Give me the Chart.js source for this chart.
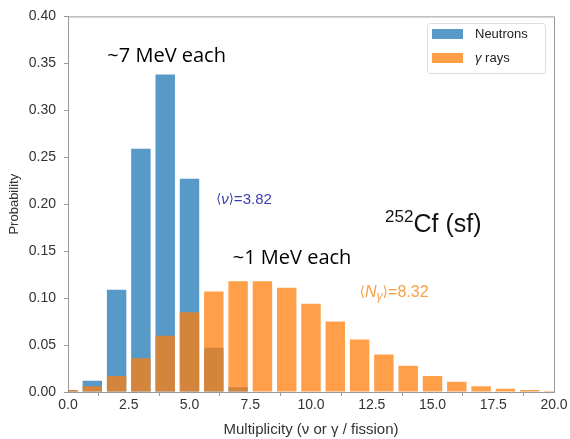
<!DOCTYPE html>
<html>
<head>
<meta charset="utf-8">
<script src="https://cdn.jsdelivr.net/npm/chart.js@4"></script>
<style>
  html, body { margin: 0; padding: 0; background: #fff; }
  #wrap { width: 570px; height: 439px; }
</style>
</head>
<body>
<div id="wrap"><canvas id="multChart" width="570" height="439"></canvas></div>
<script>
// multiplicity values (x) and probabilities
const neutronMult = [0, 1, 2, 3, 4, 5, 6, 7];
const neutronProb = [0.002, 0.012, 0.109, 0.259, 0.338, 0.227, 0.047, 0.005];

const gammaMult = [0, 1, 2, 3, 4, 5, 6, 7, 8, 9, 10, 11, 12, 13, 14, 15, 16, 17, 18, 19, 20];
const gammaProb = [0.002, 0.006, 0.017, 0.036, 0.060, 0.085, 0.107, 0.118, 0.118, 0.111, 0.094,
                   0.075, 0.056, 0.040, 0.028, 0.017, 0.011, 0.006, 0.0035, 0.002, 0.001];

const xTicks = [0, 2.5, 5, 7.5, 10, 12.5, 15, 17.5, 20];
const yTicks = [0, 0.05, 0.10, 0.15, 0.20, 0.25, 0.30, 0.35, 0.40];

const seriesNames = ['Neutrons', 'γ rays'];
const blue = 'rgba(31,119,180,0.75)';
const orange = 'rgba(255,127,14,0.75)';

const toPoints = (xs, ys) => xs.map((x, i) => ({ x: x, y: ys[i] }));

/* =========================
   frame, legend and notes
   ========================= */

// draw text runs (some italic) in a row
function drawRuns(ctx, runs, x, y, size, color) {
    ctx.fillStyle = color;
    ctx.textBaseline = 'middle';
    ctx.textAlign = 'left';
    runs.forEach(r => {
        ctx.font = (r.italic ? 'italic ' : '') + (r.size || size) + 'px ' + (r.family || '"Liberation Sans", Arial, sans-serif');
        const dy = r.dy || 0;
        ctx.fillText(r.text, x, y + dy);
        x += ctx.measureText(r.text).width;
    });
}

const extrasPlugin = {
    id: 'extras',
    afterDraw(chart) {
        const ctx = chart.ctx;
        const area = chart.chartArea;
        const xs = chart.scales.x;
        const ys = chart.scales.y;
        ctx.save();

        // top + right spines
        ctx.strokeStyle = '#999';
        ctx.lineWidth = 1;
        ctx.beginPath();
        ctx.moveTo(area.left, area.top + 0.5);
        ctx.lineTo(area.right + 0.5, area.top + 0.5);
        ctx.lineTo(area.right + 0.5, area.bottom);
        ctx.stroke();

        // legend box
        const lx = 427, ly = 23, lw = 118, lh = 50;
        ctx.strokeStyle = '#ddd';
        ctx.fillStyle = 'rgba(255,255,255,0.85)';
        ctx.beginPath();
        ctx.roundRect(lx + 0.5, ly + 0.5, lw, lh, 3);
        ctx.fill();
        ctx.stroke();
        const colors = chart.data.datasets.map(d => d.backgroundColor);
        const legendRows = [
            [{ text: seriesNames[0] }],
            [{ text: 'γ', italic: true }, { text: ' rays' }]
        ];
        legendRows.forEach((row, i) => {
            const cy = ly + 11 + i * 24;
            ctx.fillStyle = colors[i];
            ctx.fillRect(lx + 5, cy - 5, 31, 10);
            drawRuns(ctx, row, lx + 48, cy, 13, '#222');
        });

        // annotations
        const sans = '"Open Sans", "Noto Sans", sans-serif';
        drawRuns(ctx, [{ text: '~7 MeV each', family: sans }], xs.getPixelForValue(1.62), ys.getPixelForValue(0.357), 20, '#000');
        drawRuns(ctx, [{ text: '~1 MeV each', family: sans }], xs.getPixelForValue(6.78), ys.getPixelForValue(0.142), 20, '#000');

        drawRuns(ctx, [
            { text: '⟨', family: '"DejaVu Sans", sans-serif', size: 13 },
            { text: 'ν', italic: true },
            { text: '⟩', family: '"DejaVu Sans", sans-serif', size: 13 },
            { text: '=3.82' }
        ], xs.getPixelForValue(6.1), ys.getPixelForValue(0.205), 15, '#3c3caf');

        drawRuns(ctx, [
            { text: '⟨', family: '"DejaVu Sans", sans-serif', size: 14 },
            { text: 'N', italic: true },
            { text: 'γ', italic: true, size: 12, dy: 4 },
            { text: '⟩', family: '"DejaVu Sans", sans-serif', size: 14 },
            { text: '=8.32' }
        ], xs.getPixelForValue(12.0), ys.getPixelForValue(0.106), 16, '#f7a044');

        drawRuns(ctx, [
            { text: '252', size: 17, dy: -8 },
            { text: 'Cf (sf)' }
        ], xs.getPixelForValue(13.05), ys.getPixelForValue(0.178), 25, '#111');

        ctx.restore();
    }
};

/* =========================
   chart
   ========================= */

const ctx = document.getElementById('multChart').getContext('2d');
const multChart = new Chart(ctx, {
    type: 'bar',
    data: {
        datasets: [
            {
                label: seriesNames[0],
                data: toPoints(neutronMult, neutronProb),
                backgroundColor: blue,
                order: 2
            },
            {
                label: seriesNames[1],
                data: toPoints(gammaMult, gammaProb),
                backgroundColor: orange,
                order: 1
            }
        ]
    },
    options: {
        responsive: false,
        animation: false,
        grouped: false,
        barPercentage: 0.8,
        categoryPercentage: 1.0,
        layout: { padding: { top: 15, right: 16, left: 0, bottom: 0 } },
        plugins: {
            legend: { display: false },
            tooltip: { enabled: false }
        },
        scales: {
            x: {
                type: 'linear',
                offset: false,
                min: 0,
                max: 20,
                afterBuildTicks: axis => { axis.ticks = xTicks.map(v => ({ value: v })); },
                afterFit: axis => { axis.height = 47; },
                grid: { drawOnChartArea: false, drawTicks: true, tickLength: 4, tickColor: '#999' },
                border: { color: '#999' },
                ticks: {
                    padding: 1,
                    color: '#333',
                    font: { family: '"Liberation Sans", Arial, sans-serif', size: 14 },
                    callback: v => v.toFixed(1)
                },
                title: {
                    display: true,
                    text: 'Multiplicity (ν or γ / fission)',
                    color: '#333',
                    padding: { top: 0, bottom: 0 },
                    font: { family: '"Liberation Sans", Arial, sans-serif', size: 15 }
                }
            },
            y: {
                min: 0,
                max: 0.4,
                afterBuildTicks: axis => { axis.ticks = yTicks.map(v => ({ value: v })); },
                afterFit: axis => { axis.width = 68; },
                grid: { drawOnChartArea: false, drawTicks: true, tickLength: 4, tickColor: '#999' },
                border: { color: '#999' },
                ticks: {
                    padding: 8,
                    color: '#333',
                    font: { family: '"Liberation Sans", Arial, sans-serif', size: 14 },
                    callback: v => v.toFixed(2)
                },
                title: {
                    display: true,
                    text: 'Probability',
                    color: '#333',
                    padding: { top: 7, bottom: 0 },
                    font: { family: '"Liberation Sans", Arial, sans-serif', size: 13 }
                }
            }
        }
    },
    plugins: [extrasPlugin]
});
</script>
</body>
</html>
